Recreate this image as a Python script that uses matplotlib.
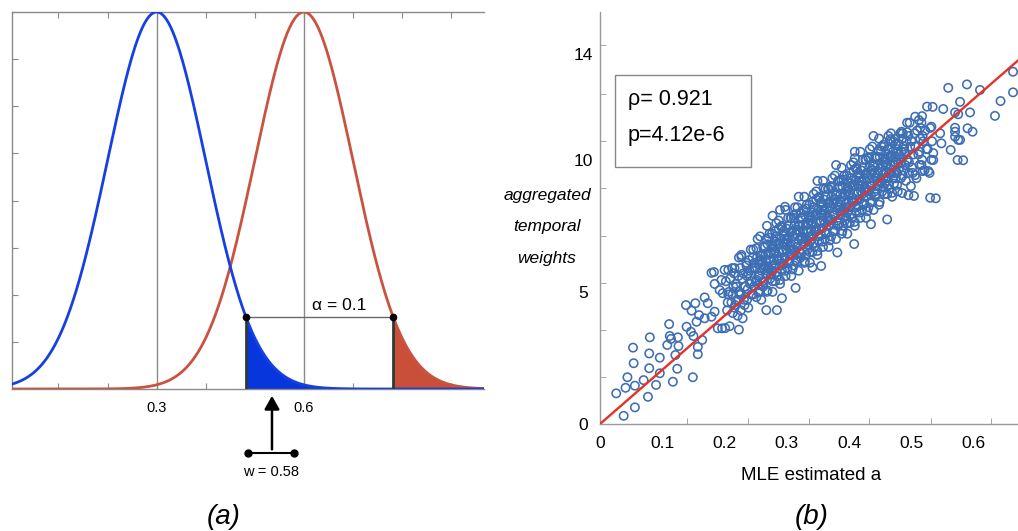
import numpy as np
import matplotlib
matplotlib.use("Agg")
import matplotlib.pyplot as plt

plt.rcParams["font.family"] = ["Liberation Sans", "DejaVu Sans"]

W, H = 1018, 531

# ---- panel (a): two normal densities and the decision threshold ----
mu_blue, mu_red = 0.3, 0.6
sigma = 0.1
cut_blue, cut_red = 0.482, 0.782
a_ticklabels = [0.3, 0.6]
alpha_label = "α = 0.1"
w_pos = 0.535
w_bar = [0.487, 0.580]
w_label = "w = 0.58"

# ---- panel (b): aggregated temporal weights vs MLE estimate ----
fit_slope = 20.5
rho_label = "ρ= 0.921"
pval_label = "p=4.12e-6"
b_xticks = [0, 0.1, 0.2, 0.3, 0.4, 0.5, 0.6]
b_yticks = [0, 5, 10, 14]

# sparse points at low a
low_x = [.026, .038, .041, .044, .056, .056, .054, .053, .070, .077, .079, .079,
         .080, .090, .096, .096, .108, .111, .112, .114, .117, .124, .125, .126,
         .121, .138, .139, .147, .149, .153, .146, .150, .157, .157, .164, .155,
         .159, .168, .179, .184, .192, .189, .196, .173, .168, .179, .184, .200,
         .195, .197, .201, .223, .183, .206]
low_y = [1.16, 0.31, 1.37, 1.77, 1.45, 0.63, 2.30, 2.89, 1.66, 1.03, 2.11, 2.67,
         3.28, 1.48, 2.51, 1.92, 2.99, 3.78, 3.33, 3.22, 1.60, 2.09, 3.28, 2.95,
         2.61, 4.50, 3.68, 4.29, 1.77, 4.57, 3.49, 3.33, 2.92, 2.64, 3.18, 3.87,
         4.12, 4.79, 5.72, 5.30, 5.07, 3.62, 3.62, 4.57, 4.00, 4.06, 4.25, 5.83,
         5.45, 4.95, 3.63, 3.57, 5.75, 5.83]

# dense band, column by column
core_x = [
    .208, .213, .211, .206, .214, .209, .212,
    .221, .217, .224, .219, .222, .216, .223, .220,
    .229, .232, .226, .233, .230, .235, .227, .231,
    .238, .243, .241, .236, .244, .239, .242, .237, .240,
    .251, .247, .254, .249, .252, .246, .253, .250, .248, .254,
    .259, .262, .256, .263, .260, .265, .257, .261, .258, .264,
    .268, .273, .271, .266, .274, .269, .272, .267, .270, .275, .268,
    .281, .277, .284, .279, .282, .276, .283, .280, .278, .284, .281, .277,
    .289, .292, .286, .293, .290, .295, .287, .291, .288, .294, .289, .292,
    .298, .303, .301, .296, .304, .299, .302, .297, .300, .305, .298, .301,
    .311, .307, .314, .309, .312, .306, .313, .310, .308, .314, .311, .307,
    .319, .322, .316, .323, .320, .325, .317, .321, .318, .324, .319, .322,
    .328, .333, .331, .326, .334, .329, .332, .327, .330, .335, .328, .331,
    .341, .337, .344, .339, .342, .336, .343, .340, .338, .344, .341, .337,
    .349, .352, .346, .353, .350, .355, .347, .351, .348, .354, .349, .352,
    .358, .363, .361, .356, .364, .359, .362, .357, .360, .365, .358, .361,
    .371, .367, .374, .369, .372, .366, .373, .370, .368, .374, .371, .367,
    .379, .382, .376, .383, .380, .385, .377, .381, .378, .384, .379, .382,
    .388, .393, .391, .386, .394, .389, .392, .387, .390, .395, .388, .391,
    .401, .397, .404, .399, .402, .396, .403, .400, .398, .404, .401, .397,
    .409, .412, .406, .413, .410, .415, .407, .411, .408, .414, .409, .412,
    .418, .423, .421, .416, .424, .419, .422, .417, .420, .425, .418, .421,
    .431, .427, .434, .429, .432, .426, .433, .430, .428, .434, .431, .427,
    .439, .442, .436, .443, .440, .445, .437, .441, .438, .444, .439,
    .448, .453, .451, .446, .454, .449, .452, .447, .450, .455, .448,
    .461, .457, .464, .459, .462, .456, .463, .460, .458, .464,
    .469, .472, .466, .473, .470, .475, .467, .471, .468, .474,
    .478, .483, .481, .476, .484, .479, .482, .477, .480,
    .491, .487, .494, .489, .492, .486, .493, .490, .488,
    .499, .502, .496, .503, .500, .505, .497, .501,
    .508, .513, .511, .506, .514, .509, .512,
    .521, .517, .524, .519, .522, .516,
    .529, .532, .526, .533, .530,
]
core_y = [
    3.7, 4.2, 4.6, 4.9, 5.2, 5.5, 5.9,
    4.1, 4.5, 4.9, 5.2, 5.6, 5.9, 6.3, 4.7,
    4.0, 4.5, 4.9, 5.2, 5.7, 6.0, 6.4, 4.7,
    4.4, 4.9, 5.3, 5.6, 5.9, 6.2, 6.6, 5.1, 5.8,
    4.8, 5.2, 5.6, 5.9, 6.3, 6.6, 7.0, 5.4, 6.1, 5.0,
    4.7, 5.2, 5.6, 5.9, 6.4, 6.7, 7.1, 5.4, 6.2, 6.0,
    5.0, 5.5, 5.9, 6.2, 6.5, 6.8, 7.2, 5.7, 6.4, 6.0, 7.5,
    5.4, 5.8, 6.2, 6.5, 6.9, 7.2, 7.6, 6.0, 6.7, 5.6, 7.3, 5.0,
    5.3, 5.8, 6.2, 6.5, 7.0, 7.3, 7.7, 6.0, 6.8, 6.6, 8.1, 7.5,
    5.6, 6.1, 6.5, 6.8, 7.1, 7.4, 7.8, 6.3, 7.0, 6.6, 8.1, 5.9,
    6.0, 6.4, 6.8, 7.1, 7.5, 7.8, 8.2, 6.6, 7.3, 6.2, 7.9, 5.6,
    5.8, 6.3, 6.7, 7.0, 7.5, 7.8, 8.2, 6.5, 7.3, 7.1, 8.6, 8.0,
    6.1, 6.6, 7.0, 7.3, 7.6, 7.9, 8.3, 6.8, 7.5, 7.1, 8.6, 6.4,
    6.5, 6.9, 7.3, 7.6, 8.0, 8.3, 8.7, 7.1, 7.8, 6.7, 8.4, 6.1,
    6.4, 6.9, 7.3, 7.6, 8.1, 8.4, 8.8, 7.1, 7.9, 7.7, 9.2, 8.6,
    6.7, 7.2, 7.6, 7.9, 8.2, 8.5, 8.9, 7.4, 8.1, 7.7, 9.2, 7.0,
    7.1, 7.5, 7.9, 8.2, 8.6, 8.9, 9.3, 7.7, 8.4, 7.3, 9.0, 6.7,
    7.0, 7.5, 7.9, 8.2, 8.7, 9.0, 9.4, 7.7, 8.5, 8.3, 9.8, 9.2,
    7.2, 7.7, 8.1, 8.4, 8.7, 9.0, 9.4, 7.9, 8.6, 8.2, 9.7, 7.5,
    7.6, 8.0, 8.4, 8.7, 9.1, 9.4, 9.8, 8.2, 8.9, 7.8, 9.5, 7.2,
    7.5, 8.0, 8.4, 8.7, 9.2, 9.5, 9.9, 8.2, 9.0, 8.8, 10.3, 9.7,
    7.8, 8.3, 8.7, 9.0, 9.3, 9.6, 10.0, 8.5, 9.2, 8.8, 10.3, 8.1,
    8.2, 8.6, 9.0, 9.3, 9.7, 10.0, 10.4, 8.8, 9.5, 8.4, 10.1, 7.8,
    8.1, 8.6, 9.0, 9.3, 9.8, 10.1, 10.5, 8.8, 9.6, 9.4, 10.9,
    8.3, 8.8, 9.2, 9.5, 9.8, 10.1, 10.5, 9.0, 9.7, 9.3, 10.8,
    8.7, 9.1, 9.5, 9.8, 10.2, 10.5, 10.9, 9.3, 10.0, 8.9,
    8.6, 9.1, 9.5, 9.8, 10.3, 10.6, 11.0, 9.3, 10.1, 9.9,
    8.8, 9.3, 9.7, 10.0, 10.3, 10.6, 11.0, 9.5, 10.2,
    9.2, 9.6, 10.0, 10.3, 10.7, 11.0, 11.4, 9.8, 10.5,
    9.0, 9.5, 9.9, 10.2, 10.7, 11.0, 11.4, 9.7,
    9.3, 9.8, 10.2, 10.5, 10.8, 11.1, 11.5,
    9.6, 10.0, 10.4, 10.7, 11.1, 11.4,
    9.5, 10.0, 10.4, 10.7, 11.2,
]

# second layer of the band, between the first columns
core2_x = [
    .204, .207, .202, .205, .216, .213, .218, .215, .226, .223, .228, .225,
    .236, .233, .238, .235, .246, .243, .248, .245,
    .257, .252, .259, .254, .258, .251, .255, .256,
    .263, .268, .261, .266, .262, .269, .267, .265,
    .277, .272, .279, .274, .278, .271, .275, .276,
    .283, .288, .281, .286, .282, .289, .287, .285,
    .297, .292, .299, .294, .298, .291, .295, .296,
    .303, .308, .301, .306, .302, .309, .307, .305,
    .317, .312, .319, .314, .318, .311, .315, .316,
    .323, .328, .321, .326, .322, .329, .327, .325,
    .337, .332, .339, .334, .338, .331, .335, .336,
    .343, .348, .341, .346, .342, .349, .347, .345,
    .357, .352, .359, .354, .358, .351, .355, .356,
    .363, .368, .361, .366, .362, .369, .367, .365,
    .377, .372, .379, .374, .378, .371, .375, .376,
    .383, .388, .381, .386, .382, .389, .387, .385,
    .397, .392, .399, .394, .398, .391, .395, .396,
    .403, .408, .401, .406, .402, .409, .407, .405,
    .417, .412, .419, .414, .418, .411, .415, .416,
    .423, .428, .421, .426, .422, .429, .427, .425,
    .437, .432, .439, .434, .438, .431, .435, .436,
    .443, .448, .441, .446, .442, .449, .447, .445,
    .457, .452, .459, .454, .458, .451, .455, .456,
    .463, .468, .461, .466, .462, .469, .467, .465,
    .477, .472, .479, .474, .478, .471, .475, .476,
    .486, .483, .488, .485, .496, .493, .498, .495, .516, .513, .518,
]
core2_y = [
    4.3, 5.0, 5.4, 4.6, 4.4, 4.9, 5.3, 5.7, 4.3, 5.0, 5.5, 5.9,
    4.7, 5.2, 5.7, 6.1, 4.9, 5.4, 5.9, 6.3,
    5.0, 5.45, 5.8, 6.05, 6.35, 6.65, 5.25, 6.2,
    5.35, 5.8, 6.15, 6.45, 6.7, 5.05, 7.0, 5.95,
    5.4, 5.85, 6.2, 6.45, 6.75, 7.05, 5.65, 6.6,
    5.75, 6.2, 6.55, 6.85, 7.1, 5.45, 7.4, 6.35,
    5.8, 6.25, 6.6, 6.85, 7.15, 7.45, 6.05, 7.0,
    6.15, 6.6, 6.95, 7.25, 7.5, 5.85, 7.8, 6.75,
    6.15, 6.6, 6.95, 7.2, 7.5, 7.8, 6.4, 7.35,
    6.45, 6.9, 7.25, 7.55, 7.8, 6.15, 8.1, 7.05,
    6.5, 6.95, 7.3, 7.55, 7.85, 8.15, 6.75, 7.7,
    6.85, 7.3, 7.65, 7.95, 8.2, 6.55, 8.5, 7.45,
    6.9, 7.35, 7.7, 7.95, 8.25, 8.55, 7.15, 8.1,
    7.25, 7.7, 8.05, 8.35, 8.6, 6.95, 8.9, 7.85,
    7.3, 7.75, 8.1, 8.35, 8.65, 8.95, 7.55, 8.5,
    7.6, 8.05, 8.4, 8.7, 8.95, 7.3, 9.25, 8.2,
    7.6, 8.05, 8.4, 8.65, 8.95, 9.25, 7.85, 8.8,
    7.95, 8.4, 8.75, 9.05, 9.3, 7.65, 9.6, 8.55,
    8.0, 8.45, 8.8, 9.05, 9.35, 9.65, 8.25, 9.2,
    8.35, 8.8, 9.15, 9.45, 9.7, 8.05, 10.0, 8.95,
    8.4, 8.85, 9.2, 9.45, 9.75, 10.05, 8.65, 9.6,
    8.7, 9.15, 9.5, 9.8, 10.05, 8.4, 10.35, 9.3,
    8.7, 9.15, 9.5, 9.75, 10.05, 10.35, 8.95, 9.9,
    9.05, 9.5, 9.85, 10.15, 10.4, 8.75, 10.7, 9.65,
    9.05, 9.5, 9.85, 10.1, 10.4, 10.7, 9.3, 10.25,
    9.4, 9.9, 10.4, 10.8, 9.5, 10.0, 10.5, 10.9, 9.8, 10.3, 10.9,
]

# loose points around the band
edge_x = [.267, .284, .314, .292, .341, .355, .381, .408, .461, .504, .539, .527,
          .485, .435, .227, .277, .297, .315, .359, .384, .409, .442, .455, .474,
          .493, .517, .534]
edge_y = [4.31, 4.31, 5.15, 4.76, 5.92, 5.98, 6.49, 6.81, 7.74, 8.63, 8.54, 9.57,
          8.74, 7.56, 6.33, 7.88, 8.22, 7.94, 8.93, 9.18, 10.06, 10.12, 10.57, 10.79,
          11.04, 11.65, 12.00]

# upper end of the range
high_x = [.559, .589, .610, .663, .663, .643, .634, .578, .551, .525, .506, .570,
          .575, .594, .590, .598, .570, .570, .570, .575, .578, .563, .574, .530,
          .495, .484, .466, .514, .532, .546, .548, .535, .535, .518, .506, .583]
high_y = [12.72, 12.85, 12.64, 13.33, 12.55, 12.22, 11.66, 12.19, 11.92, 12.01, 11.63, 11.79,
          11.72, 11.79, 11.19, 11.06, 11.21, 11.06, 10.87, 10.75, 10.75, 10.37, 9.99, 8.56,
          8.66, 11.06, 10.78, 11.21, 11.25, 11.00, 10.62, 10.25, 9.99, 9.57, 9.42, 9.98]

blue = "#1740e0"
red = "#c9533f"
pt_blue = "#3d6db3"

fig = plt.figure(figsize=(W / 100, H / 100), dpi=100)


def rect(l, t, r, b):
    return [l / W, 1 - b / H, (r - l) / W, (b - t) / H]


# ---------------- (a) ----------------
ax = fig.add_axes(rect(12, 12, 484, 389))
x0, x1 = 0.0053, 0.967
ax.set_xlim(x0, x1)
ax.set_ylim(0, 1.0)

xs = np.linspace(x0, x1, 800)
g_blue = np.exp(-0.5 * ((xs - mu_blue) / sigma) ** 2)
g_red = np.exp(-0.5 * ((xs - mu_red) / sigma) ** 2)

for m in (mu_blue, mu_red):
    ax.axvline(m, color="#8a8a8a", lw=1.0, zorder=1)

xb = np.linspace(cut_blue, x1, 300)
xr = np.linspace(cut_red, x1, 300)
ax.fill_between(xb, 0, np.exp(-0.5 * ((xb - mu_blue) / sigma) ** 2),
                color="#0636dc", lw=0, zorder=2)
ax.fill_between(xr, 0, np.exp(-0.5 * ((xr - mu_red) / sigma) ** 2),
                color="#c94f39", lw=0, zorder=2)

ax.plot(xs, g_red, color=red, lw=2.0, zorder=3)
ax.plot(xs, g_blue, color=blue, lw=2.0, zorder=4)

h = np.exp(-0.5 * ((cut_blue - mu_blue) / sigma) ** 2)
ax.plot([cut_blue, cut_red], [h, h], color="#6a6a6a", lw=1.0, zorder=5)
for c in (cut_blue, cut_red):
    ax.plot([c, c], [0, h], color="#2e3a3a", lw=2.0, zorder=5)
ax.plot([cut_blue, cut_red], [h, h], "o", color="black", ms=4.5, zorder=6)
ax.text(0.672, h + 0.012, alpha_label, ha="center", va="bottom", fontsize=12.5)

# arrow marking w
ax.annotate("", xy=(w_pos, -0.018), xytext=(w_pos, -0.160),
            arrowprops=dict(arrowstyle="-|>,head_width=0.45,head_length=0.8",
                            color="black", lw=1.8, shrinkA=0, shrinkB=0),
            annotation_clip=False)
ax.plot(w_bar, [-0.170, -0.170], color="black", lw=1.5, clip_on=False)
ax.plot(w_bar, [-0.170, -0.170], "o", color="black", ms=5, clip_on=False)
ax.text(np.mean(w_bar), -0.219, w_label, ha="center", va="center", fontsize=10.5)

for s in ("left", "top", "bottom"):
    ax.spines[s].set_color("#8a8a8a")
    ax.spines[s].set_linewidth(1.0)
ax.spines["right"].set_visible(False)
ax.set_xticks(np.arange(0.1, 0.95, 0.1))
ax.set_xticklabels(["%.1f" % t if any(abs(t - a) < 1e-6 for a in a_ticklabels) else ""
                    for t in np.arange(0.1, 0.95, 0.1)])
ax.set_yticks(np.arange(0.125, 0.9, 0.125))
ax.set_yticklabels([])
ax.tick_params(direction="in", length=4, color="#8a8a8a", top=True, labelsize=10.5,
               pad=9)

fig.text(224 / W, 1 - 517 / H, "(a)", style="italic", fontsize=20, ha="center", va="center")

# ---------------- (b) ----------------
bx = fig.add_axes(rect(600, 12, 1018, 424))
bx.set_xlim(0, 0.671)
bx.set_ylim(0, 15.59)

bx.plot([0, 0.7], [0, 0.7 * fit_slope], color="#e8302a", lw=1.7, zorder=3)
for px_, py_ in ((low_x, low_y), (core_x, core_y), (core2_x, core2_y),
                 (edge_x, edge_y), (high_x, high_y)):
    bx.scatter(px_, py_, s=36, facecolors="none", edgecolors=pt_blue, linewidths=1.15,
               zorder=2)

for s in ("top", "right"):
    bx.spines[s].set_visible(False)
for s in ("left", "bottom"):
    bx.spines[s].set_color("#999999")
    bx.spines[s].set_linewidth(1.0)

bx.set_xticks(b_xticks)
bx.set_xticklabels([("%g" % t) for t in b_xticks])
bx.set_yticks(b_yticks)
bx.set_yticklabels([str(t) for t in b_yticks])
bx.tick_params(which="major", length=0, labelsize=12.5)
bx.tick_params(axis="x", which="major", pad=9)
bx.tick_params(axis="y", which="major", pad=12)
for lab in bx.get_yticklabels():
    lab.set_horizontalalignment("center")
bx.set_xticks([0.140, 0.238, 0.336, 0.432, 0.531, 0.628], minor=True)
bx.set_yticks([1.79, 3.57, 5.34, 7.13, 8.93, 10.72, 12.5, 14.34], minor=True)
bx.tick_params(which="minor", direction="in", length=4, color="#999999")

box = plt.Rectangle((615 / W, 1 - 167 / H), (751 - 615) / W, (167 - 75) / H,
                    transform=fig.transFigure, fill=False, ec="#888888", lw=1.0)
fig.add_artist(box)
fig.text(628 / W, 1 - 99 / H, rho_label, fontsize=15.5, ha="left", va="center")
fig.text(628 / W, 1 - 135.5 / H, pval_label, fontsize=15.5, ha="left", va="center")

for i, word in enumerate(["aggregated", "temporal", "weights"]):
    fig.text(547 / W, 1 - (195 + 31.5 * i) / H, word, style="italic", fontsize=12.5,
             ha="center", va="center")

fig.text(811 / W, 1 - 476 / H, "MLE estimated a", fontsize=13.5, ha="center", va="center")
fig.text(812 / W, 1 - 517 / H, "(b)", style="italic", fontsize=20, ha="center", va="center")

fig.savefig("out.png", dpi=100)
